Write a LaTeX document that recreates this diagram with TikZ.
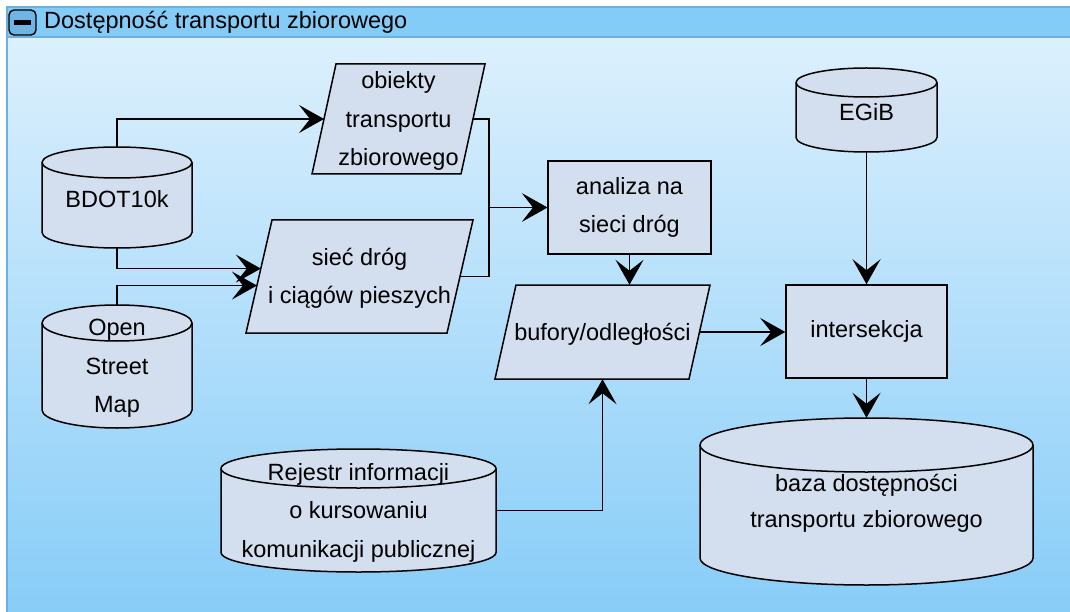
\documentclass[tikz,border=0pt]{standalone}
\usepackage{fontspec}
\setmainfont{Liberation Sans}
\usetikzlibrary{arrows.meta,calc}

\definecolor{nodefill}{HTML}{D3DEEE}
\definecolor{headfill}{HTML}{83CCF7}
\definecolor{bodytop}{HTML}{DCF0FD}
\definecolor{bodybot}{HTML}{88CDF8}
\definecolor{panelline}{HTML}{6CB0E0}
\definecolor{btnfill}{HTML}{6FB4E2}

\tikzset{
  shapeline/.style={draw=black, line width=1.5pt, fill=nodefill},
  lbl/.style={inner sep=0pt, align=center, text=black,
    font=\fontsize{23.5}{38.5}\selectfont},
  body/.style={lbl, text depth=0pt},
  conn/.style={draw=black, line width=1.5pt,
    -{Stealth[length=25pt, width=28pt, inset=11pt]}},
}

% database cylinder: name, cx, cy, width, height, cap radius, options, text
\newcommand\dbshape[8]{%
  \pgfmathsetmacro\dbL{#2-#4/2}%
  \pgfmathsetmacro\dbR{#2+#4/2}%
  \pgfmathsetmacro\dbT{#3-#5/2+#6}%
  \pgfmathsetmacro\dbB{#3+#5/2-#6}%
  \pgfmathsetmacro\dbRx{#4/2}%
  \path[shapeline] (\dbL,\dbT) -- (\dbL,\dbB)
    arc[start angle=180, end angle=360, x radius=\dbRx pt, y radius=#6pt]
    -- (\dbR,\dbT)
    arc[start angle=0, end angle=180, x radius=\dbRx pt, y radius=#6pt] -- cycle;
  \draw[line width=1.5pt] (\dbL,\dbT)
    arc[start angle=180, end angle=360, x radius=\dbRx pt, y radius=#6pt];
  \node[lbl, minimum width=#4pt, minimum height=#5pt, #7] (#1) at (#2,#3) {};
  \node[lbl, yshift=-2pt, #7] (#1-text) at (#2,#3) {#8};
}

% data parallelogram: name, cx, cy, width, height, slant, options, text
\newcommand\slantbox[8]{%
  \pgfmathsetmacro\sbL{#2-#4/2}%
  \pgfmathsetmacro\sbR{#2+#4/2}%
  \pgfmathsetmacro\sbT{#3-#5/2}%
  \pgfmathsetmacro\sbB{#3+#5/2}%
  \coordinate (#1-tl) at ({\sbL+#6},\sbT);
  \coordinate (#1-tr) at (\sbR,\sbT);
  \coordinate (#1-br) at ({\sbR-#6},\sbB);
  \coordinate (#1-bl) at (\sbL,\sbB);
  \path[shapeline] (#1-tl) -- (#1-tr) -- (#1-br) -- (#1-bl) -- cycle;
  \node[lbl, minimum width=#4pt, minimum height=#5pt, #7] (#1) at (#2,#3) {};
  \node[lbl, yshift=-2pt, #7] (#1-text) at (#2,#3) {#8};
}

\begin{document}
\begin{tikzpicture}[x=1pt, y=-1pt]
\useasboundingbox (0,0) rectangle (1070,612);
\fill[white] (0,0) rectangle (1070,612);

% swimlane container
\shade[top color=bodytop, bottom color=bodybot] (7,37) rectangle (1070,612);
\fill[headfill] (7,7) rectangle (1070,37);
\draw[panelline, line width=1.2pt] (1070,7) -- (7,7) -- (7,612);
\draw[panelline, line width=1.2pt] (7,37) -- (1070,37);
\draw[fill=btnfill, line width=1.4pt, rounded corners=5pt] (9,10) rectangle (36,35);
\fill[black] (14,20) rectangle (31,25);
\node[lbl, anchor=base west] (title) at (44,29) {Dostępność transportu zbiorowego};

% data sources
\dbshape{bdot}{117}{197.5}{150}{101}{15.5}{}{BDOT10k}
\dbshape{osm}{117}{366.5}{150}{123}{18}{}{Open\\Street\\Map}
\dbshape{egib}{866.5}{110}{141}{84}{14.5}{}{EGiB}
\dbshape{rejestr}{358.5}{510.5}{275}{123}{19.5}{}{Rejestr informacji\\o kursowaniu\\komunikacji publicznej}
\dbshape{baza}{866.5}{501.5}{333}{167}{27}{font=\fontsize{23.5}{36}\selectfont}{baza dostępności\\transportu zbiorowego}

% intermediate data
\slantbox{obj}{398.5}{119}{173}{110}{24}{}{obiekty\\transportu\\zbiorowego}
\slantbox{siec}{359.5}{276.5}{227}{113}{26}{}{sieć dróg\\i ciągów pieszych}
\slantbox{bufory}{602.5}{332}{215}{94}{21}{}{bufory/odległości}

% processes
\node[lbl, shapeline, minimum width=163pt, minimum height=93pt] (analiza) at (629.5,207.5) {analiza na\\sieci dróg};
\node[lbl, shapeline, minimum width=161pt, minimum height=93pt] (inter) at (866.5,331.5) {intersekcja};

% connectors
\coordinate (merge) at (489,207.5);
\draw[conn] (bdot.north) |- ($(obj-tl)!0.5!(obj-bl)$);
\draw[conn] (bdot.south) |- ($(siec-tl)!0.43!(siec-bl)$);
\draw[conn] (osm.north) |- ($(siec-tl)!0.58!(siec-bl)$);
\draw[conn] ($(obj-tr)!0.5!(obj-br)$) -| (merge) -- (analiza.west);
\draw[conn] ($(siec-tr)!0.5!(siec-br)$) -| (merge) -- (analiza.west);
\draw[conn] (analiza.south) -- (analiza.south |- bufory.north);
\coordinate (bufout) at ($(bufory-tr)!0.5!(bufory-br)$);
\draw[conn] (bufout) -- (bufout -| inter.west);
\draw[conn] (rejestr.east) -| (bufory.south);
\draw[conn] (egib.south) -- (inter.north);
\draw[conn] (inter.south) -- (baza.north);
\end{tikzpicture}
\end{document}
